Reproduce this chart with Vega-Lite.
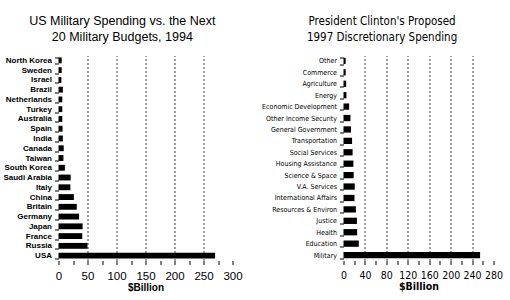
{
  "$schema": "https://vega.github.io/schema/vega-lite/v6.json",
  "background": "white",
  "padding": {"top": 14.5, "left": 2.5, "right": 0, "bottom": 0},
  "spacing": 19,
  "config": {"view": {"stroke": null}},
  "datasets": {
    "mil": [
      {"country": "North Korea", "billion": 5.5},
      {"country": "Sweden", "billion": 5.5},
      {"country": "Israel", "billion": 5},
      {"country": "Brazil", "billion": 7.5},
      {"country": "Netherlands", "billion": 6.5},
      {"country": "Turkey", "billion": 6.5},
      {"country": "Australia", "billion": 6.5},
      {"country": "Spain", "billion": 7},
      {"country": "India", "billion": 7.5},
      {"country": "Canada", "billion": 9},
      {"country": "Taiwan", "billion": 8.5},
      {"country": "South Korea", "billion": 11},
      {"country": "Saudi Arabia", "billion": 21},
      {"country": "Italy", "billion": 20.5},
      {"country": "China", "billion": 26.5},
      {"country": "Britain", "billion": 31.5},
      {"country": "Germany", "billion": 35.5},
      {"country": "Japan", "billion": 41.5},
      {"country": "France", "billion": 41},
      {"country": "Russia", "billion": 50},
      {"country": "USA", "billion": 270}
    ],
    "disc": [
      {"category": "Other", "billion": 4},
      {"category": "Commerce", "billion": 4},
      {"category": "Agriculture", "billion": 5},
      {"category": "Energy", "billion": 5.5},
      {"category": "Economic Development", "billion": 10.5},
      {"category": "Other Income Security", "billion": 13},
      {"category": "General Government", "billion": 14},
      {"category": "Transportation", "billion": 16},
      {"category": "Social Services", "billion": 17},
      {"category": "Housing Assistance", "billion": 18.5},
      {"category": "Science & Space", "billion": 19},
      {"category": "V.A. Services", "billion": 21},
      {"category": "International Affairs", "billion": 20.5},
      {"category": "Resources & Environ", "billion": 23},
      {"category": "Justice", "billion": 25},
      {"category": "Health", "billion": 25.5},
      {"category": "Education", "billion": 28.5},
      {"category": "Military", "billion": 255}
    ]
  },
  "hconcat": [
    {
      "data": {"name": "mil"},
      "width": 174,
      "height": 205,
      "title": {
        "text": ["US Military Spending vs. the Next", "20 Military Budgets, 1994"],
        "font": "Liberation Sans",
        "fontSize": 12.5,
        "fontWeight": "normal",
        "lineHeight": 16.5,
        "frame": "bounds",
        "anchor": "middle",
        "offset": 8
      },
      "mark": {"type": "bar", "color": "black"},
      "encoding": {
        "y": {
          "field": "country",
          "type": "nominal",
          "sort": null,
          "scale": {"paddingInner": 0.4, "paddingOuter": 0.2},
          "axis": {
            "title": null,
            "domain": false,
            "tickBand": "extent",
            "tickSize": 4,
            "tickColor": "black",
            "labelPadding": 3,
            "labelFont": "Liberation Sans",
            "labelFontWeight": "bold",
            "labelFontSize": 8,
            "labelColor": "black"
          }
        },
        "x": {
          "field": "billion",
          "type": "quantitative",
          "scale": {"domain": [0, 300], "nice": false},
          "axis": {
            "title": "$Billion",
            "titleFont": "Liberation Sans",
            "titleFontSize": 10,
            "titleFontWeight": "bold",
            "titleColor": "black",
            "titlePadding": 0,
            "values": [0, 25, 50, 75, 100, 125, 150, 175, 200, 225, 250, 275, 300],
            "labelExpr": "datum.value % 50 === 0 ? datum.label : ''",
            "labelOverlap": false,
            "labelFlush": false,
            "labelFont": "Liberation Sans",
            "labelFontSize": 11.5,
            "labelColor": "black",
            "labelPadding": 6,
            "domain": false,
            "tickSize": 4,
            "tickColor": "black",
            "grid": true,
            "gridColor": "#444",
            "gridDash": [2, 2],
            "gridOpacity": {"condition": {"test": "datum.value % 50 === 0 && datum.value > 0 && datum.value < 300", "value": 1}, "value": 0}
          }
        }
      }
    },
    {
      "data": {"name": "disc"},
      "width": 150,
      "height": 205,
      "title": {
        "text": ["President Clinton's Proposed", "1997 Discretionary Spending"],
        "font": "DejaVu Sans Condensed",
        "fontSize": 11.5,
        "fontWeight": "normal",
        "lineHeight": 16.5,
        "frame": "bounds",
        "anchor": "middle",
        "offset": 8
      },
      "mark": {"type": "bar", "color": "black"},
      "encoding": {
        "y": {
          "field": "category",
          "type": "nominal",
          "sort": null,
          "scale": {"paddingInner": 0.45, "paddingOuter": 0.2},
          "axis": {
            "title": null,
            "domain": false,
            "tickBand": "extent",
            "tickSize": 4,
            "tickColor": "black",
            "labelPadding": 3,
            "labelFont": "DejaVu Sans Condensed",
            "labelFontSize": 7,
            "labelColor": "black"
          }
        },
        "x": {
          "field": "billion",
          "type": "quantitative",
          "scale": {"domain": [0, 280], "nice": false},
          "axis": {
            "title": "$Billion",
            "titleFont": "DejaVu Sans Condensed",
            "titleFontSize": 10.5,
            "titleFontWeight": "bold",
            "titleColor": "black",
            "titlePadding": 0,
            "values": [0, 20, 40, 60, 80, 100, 120, 140, 160, 180, 200, 220, 240, 260, 280],
            "labelExpr": "datum.value % 40 === 0 ? datum.label : ''",
            "labelOverlap": false,
            "labelFlush": false,
            "labelFont": "DejaVu Sans Condensed",
            "labelFontSize": 10.5,
            "labelColor": "black",
            "labelPadding": 6,
            "domain": false,
            "tickSize": 4,
            "tickColor": "black",
            "grid": true,
            "gridColor": "#444",
            "gridDash": [2, 2],
            "gridOpacity": {"condition": {"test": "datum.value % 40 === 0 && datum.value > 0 && datum.value < 280", "value": 1}, "value": 0}
          }
        }
      }
    }
  ]
}
